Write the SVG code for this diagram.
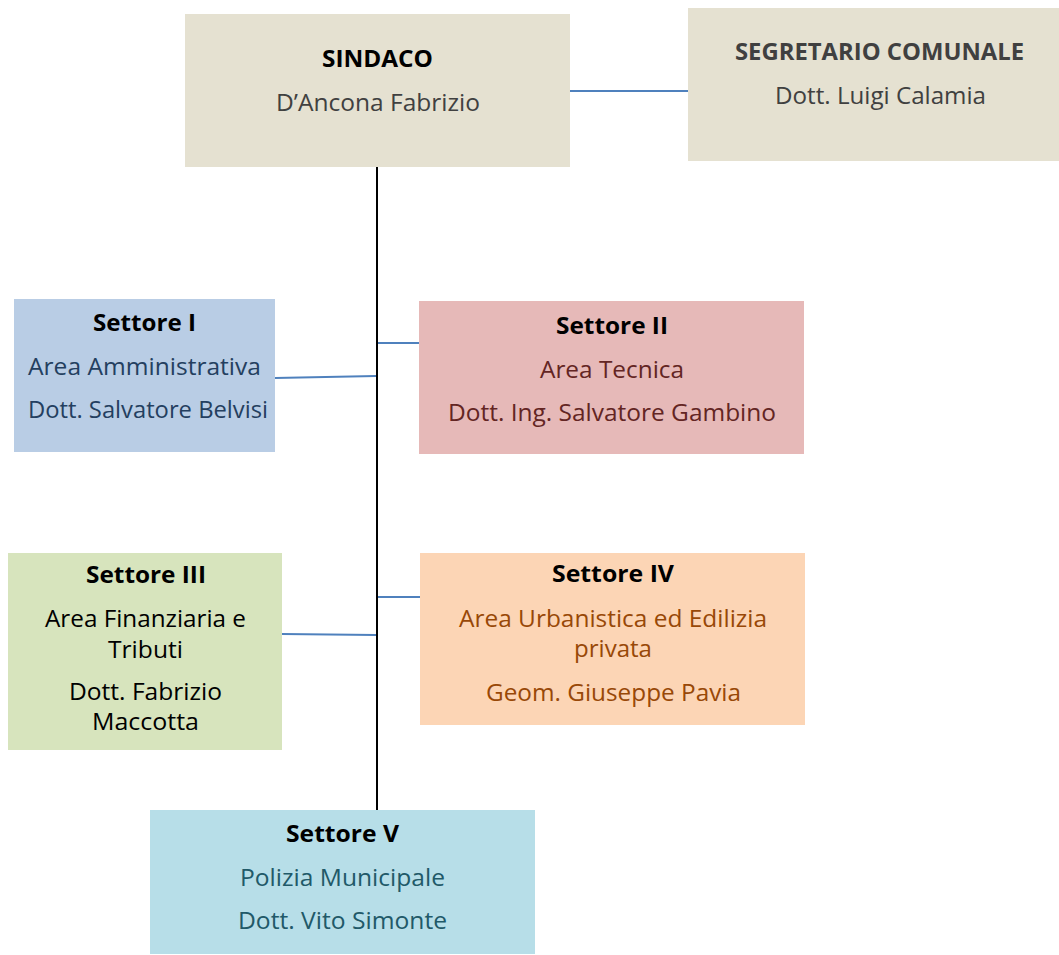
<svg xmlns="http://www.w3.org/2000/svg" width="1059" height="955" viewBox="0 0 1059 955">
<style>
text{font-family:"Open Sans","Noto Sans","Liberation Sans",sans-serif;text-anchor:middle;font-size:24px}
.h{font-weight:bold}
.blue{stroke:#4f81bd;stroke-width:2;fill:none}
.trunk{stroke:#000;stroke-width:2;fill:none}
</style>
<rect width="1059" height="955" fill="#fff"/>
<g id="connectors">
<line class="trunk" x1="377" y1="167" x2="377" y2="810"/>
<line class="blue" x1="570" y1="91" x2="688" y2="91"/>
<line class="blue" x1="378" y1="343" x2="419" y2="343"/>
<line class="blue" x1="275" y1="378" x2="376" y2="376"/>
<line class="blue" x1="378" y1="597" x2="420" y2="597"/>
<line class="blue" x1="282" y1="634" x2="376" y2="635"/>
</g>
<g id="sindaco">
<rect x="185" y="14" width="385" height="153" fill="#e5e1d1"/>
<text class="h" x="377.5" y="67" fill="#000" font-size="22" textLength="111" lengthAdjust="spacingAndGlyphs">SINDACO</text>
<text x="378" y="111" fill="#404040" font-size="23" textLength="204" lengthAdjust="spacingAndGlyphs">D’Ancona Fabrizio</text>
</g>
<g id="segretario">
<rect x="688" y="8" width="371" height="153" fill="#e5e1d1"/>
<text class="h" x="879.5" y="60" fill="#404040" font-size="23" textLength="289" lengthAdjust="spacingAndGlyphs">SEGRETARIO COMUNALE</text>
<text x="880.5" y="104" fill="#404040" font-size="23" textLength="211" lengthAdjust="spacingAndGlyphs">Dott. Luigi Calamia</text>
</g>
<g id="settore1">
<rect x="14" y="299" width="261" height="153" fill="#b9cde5"/>
<text class="h" x="144.5" y="331" fill="#000" textLength="103" lengthAdjust="spacingAndGlyphs">Settore I</text>
<text x="144.5" y="375" fill="#243f60" textLength="233" lengthAdjust="spacingAndGlyphs">Area Amministrativa</text>
<text x="148" y="418" fill="#243f60" textLength="240" lengthAdjust="spacingAndGlyphs">Dott. Salvatore Belvisi</text>
</g>
<g id="settore2">
<rect x="419" y="301" width="385" height="153" fill="#e6b9b8"/>
<text class="h" x="612" y="334" fill="#000" textLength="112" lengthAdjust="spacingAndGlyphs">Settore II</text>
<text x="612" y="378" fill="#632523" textLength="144" lengthAdjust="spacingAndGlyphs">Area Tecnica</text>
<text x="612" y="421" fill="#632523" textLength="328" lengthAdjust="spacingAndGlyphs">Dott. Ing. Salvatore Gambino</text>
</g>
<g id="settore3">
<rect x="8" y="553" width="274" height="197" fill="#d7e4bd"/>
<text class="h" x="146" y="583" fill="#000" textLength="120" lengthAdjust="spacingAndGlyphs">Settore III</text>
<text x="145.5" y="627" fill="#000" textLength="201" lengthAdjust="spacingAndGlyphs">Area Finanziaria e</text>
<text x="145.5" y="658" fill="#000" textLength="75" lengthAdjust="spacingAndGlyphs">Tributi</text>
<text x="145.5" y="700" fill="#000" textLength="153" lengthAdjust="spacingAndGlyphs">Dott. Fabrizio</text>
<text x="145.5" y="730" fill="#000" textLength="107" lengthAdjust="spacingAndGlyphs">Maccotta</text>
</g>
<g id="settore4">
<rect x="420" y="553" width="385" height="172" fill="#fcd5b5"/>
<text class="h" x="613" y="582" fill="#000" textLength="122" lengthAdjust="spacingAndGlyphs">Settore IV</text>
<text x="613" y="627" fill="#984807" textLength="308" lengthAdjust="spacingAndGlyphs">Area Urbanistica ed Edilizia</text>
<text x="613" y="657" fill="#984807" textLength="78" lengthAdjust="spacingAndGlyphs">privata</text>
<text x="613.5" y="701" fill="#984807" textLength="255" lengthAdjust="spacingAndGlyphs">Geom. Giuseppe Pavia</text>
</g>
<g id="settore5">
<rect x="150" y="810" width="385" height="144" fill="#b7dee8"/>
<text class="h" x="342.5" y="842" fill="#000" textLength="113" lengthAdjust="spacingAndGlyphs">Settore V</text>
<text x="342.5" y="886" fill="#215968" textLength="205" lengthAdjust="spacingAndGlyphs">Polizia Municipale</text>
<text x="342.5" y="929" fill="#215968" textLength="209" lengthAdjust="spacingAndGlyphs">Dott. Vito Simonte</text>
</g>
</svg>
